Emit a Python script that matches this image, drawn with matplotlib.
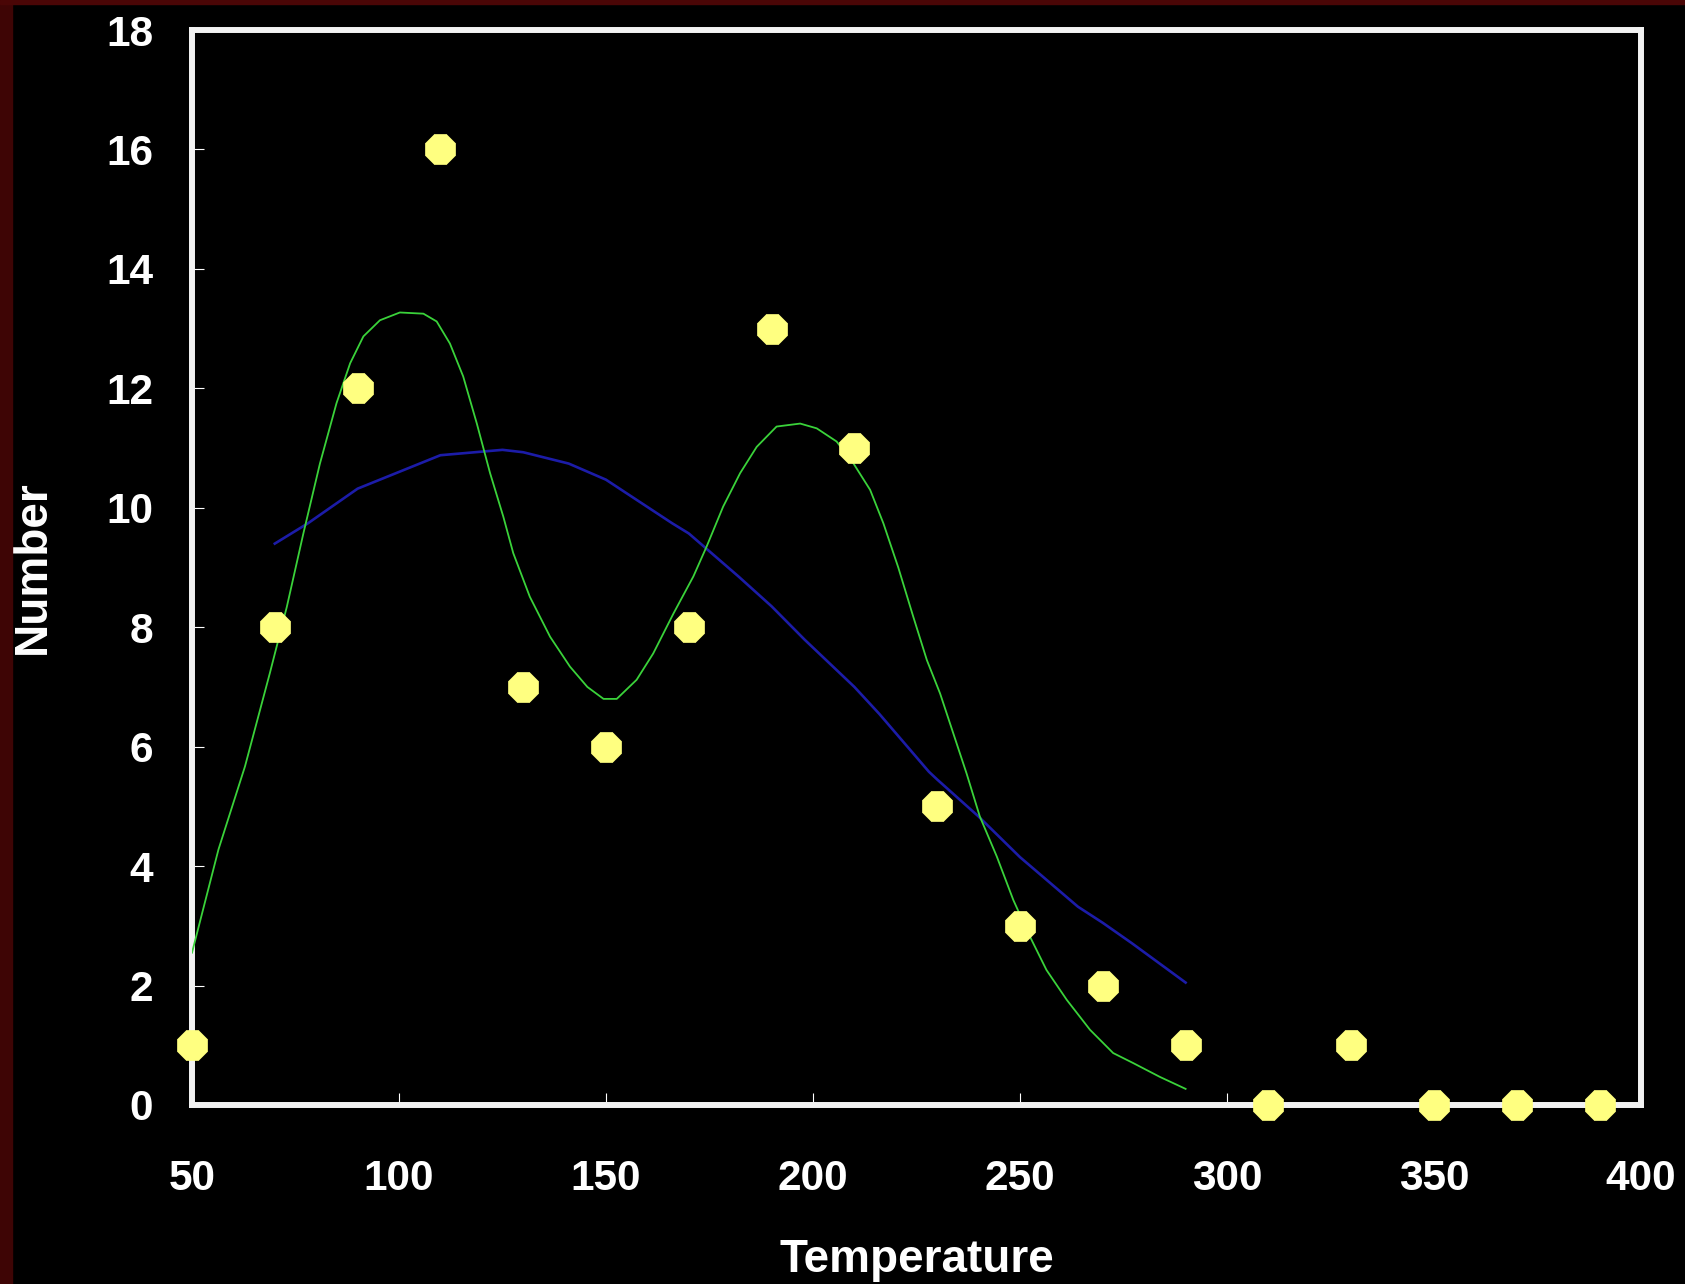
import matplotlib
matplotlib.use('Agg')
import matplotlib.pyplot as plt
from matplotlib.patches import Rectangle
from matplotlib.ticker import MultipleLocator

plt.rcParams['font.family'] = ['Liberation Sans', 'DejaVu Sans']
plt.rcParams['font.weight'] = 'bold'

# measured counts
temps = [50, 70, 90, 110, 130, 150, 170, 190, 210, 230, 250, 270, 290, 310, 330, 350, 370, 390]
counts = [1, 8, 12, 16, 7, 6, 8, 13, 11, 5, 3, 2, 1, 0, 1, 0, 0, 0]

# green smoothed curve
green_x = [50, 56.4, 62.8, 68.8, 72.9, 76.9, 80.9, 84.9, 88.2, 91.4, 95.4, 100.2, 105.9,
           109.1, 112.3, 115.5, 118.8, 122.0, 125.2, 127.6, 131.6, 136.5, 141.3, 145.5,
           149.4, 152.6, 157.4, 161.4, 166.3, 171.1, 174.3, 178.3, 182.4, 186.4, 191.2,
           196.9, 200.9, 205.7, 209.7, 213.8, 217.0, 220.6, 224.2, 227.5, 230.7, 233.9,
           237.1, 240.3, 244.4, 248.4, 252.4, 256.4, 261.3, 266.9, 272.5, 277.4, 283.8, 290]
green_y = [2.55, 4.28, 5.67, 7.23, 8.34, 9.57, 10.74, 11.75, 12.42, 12.87, 13.14, 13.27, 13.25,
           13.12, 12.75, 12.20, 11.41, 10.58, 9.85, 9.24, 8.51, 7.84, 7.34, 7.0,
           6.8, 6.8, 7.12, 7.56, 8.23, 8.85, 9.35, 10.02, 10.58, 11.02, 11.36,
           11.41, 11.33, 11.11, 10.75, 10.30, 9.74, 9.0, 8.18, 7.45, 6.89, 6.22,
           5.55, 4.83, 4.16, 3.43, 2.82, 2.26, 1.76, 1.26, 0.87, 0.70, 0.47, 0.27]

# blue trend curve
blue_x = [70, 78, 90, 110, 125, 130, 141, 150, 166, 170, 182, 190, 198, 210, 216, 228, 230, 240,
          250, 264, 270, 277, 290]
blue_y = [9.40, 9.74, 10.32, 10.88, 10.97, 10.93, 10.74, 10.47, 9.74, 9.57, 8.85, 8.35, 7.79,
          7.0, 6.55, 5.58, 5.45, 4.83, 4.15, 3.32, 3.05, 2.71, 2.05]

fig = plt.figure(figsize=(16.85, 12.84), dpi=100, facecolor='black')
# dark red strips at the left and top edge of the slide
fig.patches.append(Rectangle((0, 0), 12 / 1685, 1, transform=fig.transFigure,
                             color='#3e0505', zorder=0))
fig.patches.append(Rectangle((0, 1 - 4 / 1284), 1, 4 / 1284, transform=fig.transFigure,
                             color='#4a0606', zorder=0))

ax = fig.add_axes([192 / 1685, 1 - 1105 / 1284, 1449 / 1685, 1075 / 1284])
ax.set_facecolor('black')

ax.plot(blue_x, blue_y, color='#1c1ca8', linewidth=1.9, zorder=3)
ax.plot(green_x, green_y, color='#3ad23a', linewidth=1.3, zorder=3)
ax.plot(temps, counts, linestyle='none', marker='8', markersize=23,
        markerfacecolor='#ffff80', markeredgecolor='#ffff80', markeredgewidth=0.5,
        clip_on=False, zorder=5)

ax.set_xlim(50, 400)
ax.set_ylim(0, 18)
ax.xaxis.set_major_locator(MultipleLocator(50))
ax.yaxis.set_major_locator(MultipleLocator(2))

for side in ['left', 'bottom', 'right', 'top']:
    ax.spines[side].set_color('#f2f2f2')
    ax.spines[side].set_linewidth(4.3)

ax.tick_params(axis='both', direction='in', length=8.5, width=0.8, color='white',
               labelcolor='white', labelsize=30.5)
ax.tick_params(axis='y', pad=28)
ax.tick_params(axis='x', pad=39)
for lab in ax.get_xticklabels() + ax.get_yticklabels():
    lab.set_fontweight('bold')

ax.set_xlabel('Temperature', color='white', fontsize=33, fontweight='bold')
ax.set_ylabel('Number', color='white', fontsize=33, fontweight='bold')
ax.xaxis.set_label_coords(0.5, -0.144)
ax.xaxis.label.set_va('center')
ax.yaxis.set_label_coords(-0.110, 0.5)
ax.yaxis.label.set_va('center')

fig.savefig('out.png', dpi=100, facecolor=fig.get_facecolor())
